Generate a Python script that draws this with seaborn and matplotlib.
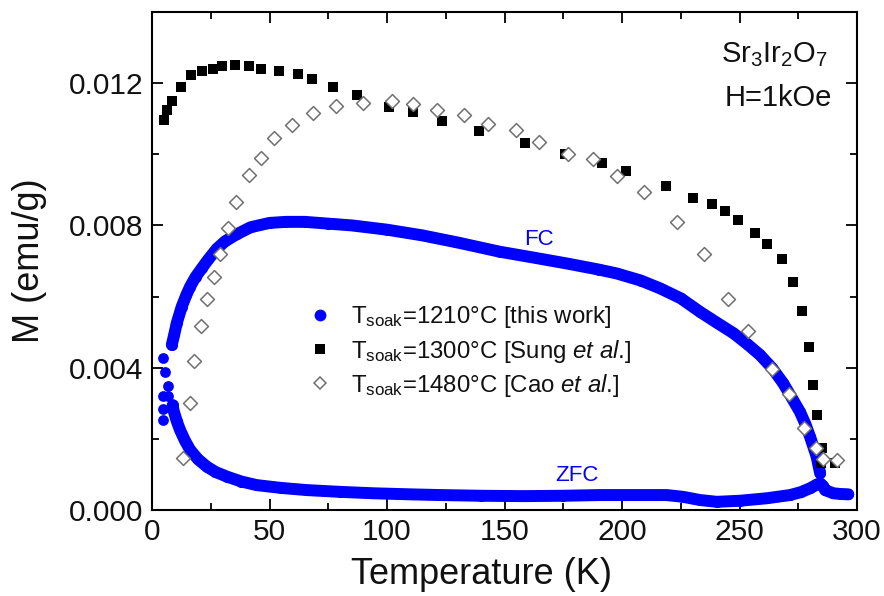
import matplotlib
matplotlib.use("Agg")
import matplotlib.pyplot as plt
from matplotlib.lines import Line2D
from matplotlib.ticker import MultipleLocator, FormatStrFormatter
import seaborn as sns
import pandas as pd

# ---------------- data ----------------
FC_T = [8.4, 9.5, 10.5, 12.6, 14.5, 16.2, 18.5, 21.1, 24, 27.5, 31, 36, 42, 50, 57, 65, 75, 85,
        100, 115, 130, 148, 162, 176.5, 190, 197.7, 208, 216.2, 225, 233.2, 240, 247.4, 253,
        258.7, 264, 268.6, 272, 275.7, 278, 280, 282.8, 284.3]
FC_M = [0.00464, 0.00495, 0.00525, 0.00571, 0.00603, 0.00628, 0.00655, 0.00679, 0.00705, 0.00734,
        0.00755, 0.00775, 0.00795, 0.00807, 0.0081, 0.0081, 0.00805, 0.008, 0.00788, 0.00772,
        0.00752, 0.00726, 0.0071, 0.00693, 0.00676, 0.00665, 0.00645, 0.00623, 0.00595, 0.00557,
        0.00528, 0.00497, 0.00468, 0.00436, 0.00398, 0.00356, 0.00318, 0.00276, 0.00242, 0.00206,
        0.0015, 0.00103]

LOW_T = [4.5, 4.5, 4.5, 4.5, 5.5, 6.9, 6.9, 8.8]
LOW_M = [0.00428, 0.00321, 0.00284, 0.00253, 0.00387, 0.00349, 0.00321, 0.00295]

ZFC_T = [8.8, 9.1, 10.5, 11.9, 14, 16.2, 19.5, 23.3, 27, 31.8, 38, 44.5, 55, 65.8, 80, 94.2, 110,
         122.6, 140, 158, 175, 190.6, 205, 219, 226, 233.2, 240.3, 250.2, 261.6, 271.5, 276, 280,
         283, 284.3, 285.5, 286.4, 289.9, 293, 296.3]
ZFC_M = [0.00295, 0.00281, 0.0025, 0.00225, 0.00195, 0.00169, 0.00143, 0.00122, 0.00107, 0.00094,
         0.0008, 0.0007, 0.00062, 0.00056, 0.00051, 0.00047, 0.00044, 0.00042, 0.0004, 0.00039,
         0.0004, 0.00042, 0.00042, 0.00042, 0.00037, 0.00028, 0.00023, 0.00026, 0.00033, 0.00042,
         0.0005, 0.00061, 0.00072, 0.00075, 0.00068, 0.00056, 0.00047, 0.00045, 0.00044]

SUNG_T = [5.1, 6.2, 8.6, 12.3, 16.5, 21.3, 25.8, 29.7, 35.3, 41.3, 46.2, 54.2, 62.0, 68.1, 76.9,
          87.1, 101.0, 111.2, 123.3, 139.0, 158.5, 175.7, 191.4, 201.7, 218.7, 230.1, 238.3,
          243.8, 249.2, 256.5, 261.8, 268.0, 272.6, 276.5, 279.7, 281.4, 283.1, 285.0, 284.6, 290.6]
SUNG_M = [0.01096, 0.01124, 0.01151, 0.01188, 0.01223, 0.01235, 0.01241, 0.01248, 0.01251, 0.01249,
          0.01239, 0.01235, 0.01226, 0.01211, 0.01188, 0.01166, 0.01134, 0.0112, 0.01093, 0.01066,
          0.01033, 0.0100, 0.00976, 0.00954, 0.00912, 0.00876, 0.0086, 0.0084, 0.00815, 0.0078,
          0.00748, 0.00706, 0.0064, 0.00559, 0.00459, 0.00351, 0.00267, 0.00173, 0.00131, 0.00131]

CAO_T = [13.3, 16.2, 18.0, 20.9, 23.3, 26.4, 28.9, 32.2, 35.7, 41.3, 46.2, 52.0, 59.7, 68.4, 78.2,
         89.9, 102.0, 110.9, 121.4, 132.8, 143.1, 154.8, 164.7, 177.2, 187.8, 197.7, 209.4, 223.3,
         234.9, 245.1, 253.7, 263.7, 271.2, 277.4, 282.6, 285.7, 291.4]
CAO_M = [0.00147, 0.00302, 0.00419, 0.00518, 0.00592, 0.00656, 0.00719, 0.00792, 0.00865, 0.00942,
         0.0099, 0.01045, 0.01082, 0.01117, 0.01137, 0.01143, 0.0115, 0.01141, 0.01124, 0.0111,
         0.01085, 0.01068, 0.01035, 0.0100, 0.00986, 0.0094, 0.00893, 0.0081, 0.0072, 0.00592,
         0.00503, 0.00395, 0.00326, 0.0023, 0.00173, 0.00143, 0.00141]

LEGEND_LABELS = [r"T$_{\rm soak}$=1210°C [this work]",
                 r"T$_{\rm soak}$=1300°C [Sung $\it{et\ al}$.]",
                 r"T$_{\rm soak}$=1480°C [Cao $\it{et\ al}$.]"]

# ---------------- style ----------------
sns.set_theme(style="ticks")
FONT = ["Liberation Sans", "DejaVu Sans"]
plt.rcParams["font.family"] = FONT
plt.rcParams["mathtext.fontset"] = "custom"
plt.rcParams["mathtext.rm"] = "Liberation Sans"
plt.rcParams["mathtext.it"] = "Liberation Sans:italic"
plt.rcParams["mathtext.bf"] = "Liberation Sans:bold"
plt.rcParams["text.color"] = "black"
plt.rcParams["axes.labelcolor"] = "black"

BLUE = "#0000ff"
TXT = "#111111"

fig = plt.figure(figsize=(8.84, 5.96), dpi=100)
ax = fig.add_axes([0.172, 0.1443, 0.7975, 0.8356])

fc = pd.DataFrame({"T": FC_T, "M": FC_M})
zfc = pd.DataFrame({"T": ZFC_T, "M": ZFC_M})
low = pd.DataFrame({"T": LOW_T, "M": LOW_M})
sung = pd.DataFrame({"T": SUNG_T, "M": SUNG_M})
cao = pd.DataFrame({"T": CAO_T, "M": CAO_M})

for d in (fc, zfc):
    sns.lineplot(data=d, x="T", y="M", ax=ax, color=BLUE, lw=8.6, sort=False,
                 marker="o", markersize=8, markeredgewidth=0,
                 solid_capstyle="round", solid_joinstyle="round", zorder=2)
sns.scatterplot(data=low, x="T", y="M", ax=ax, color=BLUE, s=60, linewidth=0, zorder=2)
sns.scatterplot(data=sung, x="T", y="M", ax=ax, marker="s", color="black", s=45,
                linewidth=0, zorder=3)
sns.scatterplot(data=cao, x="T", y="M", ax=ax, marker="D", facecolor="white",
                edgecolor="#707070", s=50, linewidth=1.1, zorder=4)

ax.set_xlim(0, 300)
ax.set_ylim(0, 0.014)
ax.xaxis.set_major_locator(MultipleLocator(50))
ax.xaxis.set_minor_locator(MultipleLocator(25))
ax.yaxis.set_major_locator(MultipleLocator(0.004))
ax.yaxis.set_minor_locator(MultipleLocator(0.002))
ax.yaxis.set_major_formatter(FormatStrFormatter("%.3f"))
ax.tick_params(which="both", direction="in", top=True, right=True, width=1.3,
               colors="black", labelcolor=TXT)
ax.tick_params(which="major", length=8, labelsize=21.5, pad=6)
ax.tick_params(which="minor", length=5)
for s in ax.spines.values():
    s.set_linewidth(1.5)
    s.set_color("black")

ax.set_xlabel("Temperature (K)", fontsize=26, color=TXT)
ax.set_ylabel("M (emu/g)", fontsize=26, color=TXT)
ax.xaxis.set_label_coords(0.467, -0.094)
ax.yaxis.set_label_coords(-0.149, 0.5)

ax.text(0.959, 0.90, r"Sr$_3$Ir$_2$O$_7$", transform=ax.transAxes, ha="right", va="baseline",
        fontsize=21, color=TXT)
ax.text(0.965, 0.811, "H=1kOe", transform=ax.transAxes, ha="right", va="baseline",
        fontsize=21, color=TXT)
ax.text(164.7, 0.0076, "FC", color=BLUE, fontsize=16, ha="center", va="center")
ax.text(181, 0.00097, "ZFC", color=BLUE, fontsize=16, ha="center", va="center")

handles = [
    Line2D([], [], ls="none", marker="o", color=BLUE, markersize=8.5, markeredgewidth=0),
    Line2D([], [], ls="none", marker="s", color="black", markersize=6.5, markeredgewidth=0),
    Line2D([], [], ls="none", marker="D", markerfacecolor="white", markeredgecolor="#707070",
           markersize=6, markeredgewidth=1.1),
]
ax.legend(handles, LEGEND_LABELS, loc="upper left", bbox_to_anchor=(0.207, 0.432),
          frameon=False, fontsize=17.3, handlelength=1.0, handletextpad=0.8,
          labelspacing=0.3, borderaxespad=0, labelcolor=TXT)

fig.savefig("out.png", dpi=100)
